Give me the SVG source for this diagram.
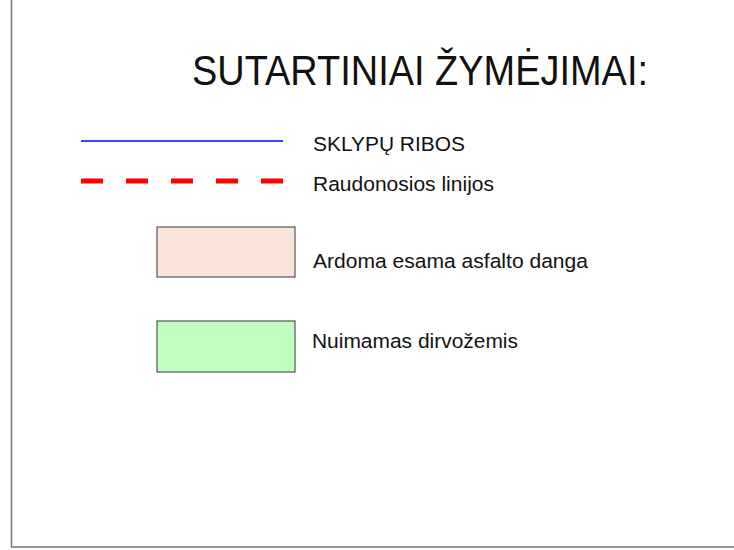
<svg xmlns="http://www.w3.org/2000/svg" width="734" height="550" viewBox="0 0 734 550">
<style>
.t{font-family:"Liberation Sans",Arial,sans-serif;fill:#111;}
.l{font-size:20.5px;}
.box{stroke:#555;stroke-width:1.2;}
</style>
<rect width="734" height="550" fill="#fff"/>
<polyline points="11.5,0 11.5,547 734,547" fill="none" stroke="#777" stroke-width="1.5"/>
<text class="t" x="192" y="85" font-size="43" textLength="456" lengthAdjust="spacingAndGlyphs">SUTARTINIAI ŽYMĖJIMAI:</text>
<g id="legend-blue">
<line x1="81" y1="141" x2="283" y2="141" stroke="#3344ff" stroke-width="2"/>
<text class="t l" x="313" y="151" textLength="152" lengthAdjust="spacingAndGlyphs">SKLYPŲ RIBOS</text>
</g>
<g id="legend-red">
<line x1="81" y1="181" x2="283" y2="181" stroke="#ff0000" stroke-width="5" stroke-dasharray="22 23"/>
<text class="t l" x="313" y="191" textLength="181" lengthAdjust="spacingAndGlyphs">Raudonosios linijos</text>
</g>
<g id="legend-asphalt">
<rect class="box" x="157" y="227" width="138" height="50" fill="#f8e4d8"/>
<text class="t l" x="313" y="268" textLength="275" lengthAdjust="spacingAndGlyphs">Ardoma esama asfalto danga</text>
</g>
<g id="legend-soil">
<rect class="box" x="157" y="321" width="138" height="51" fill="#bfffbf"/>
<text class="t l" x="312" y="348" textLength="206" lengthAdjust="spacingAndGlyphs">Nuimamas dirvožemis</text>
</g>
</svg>
